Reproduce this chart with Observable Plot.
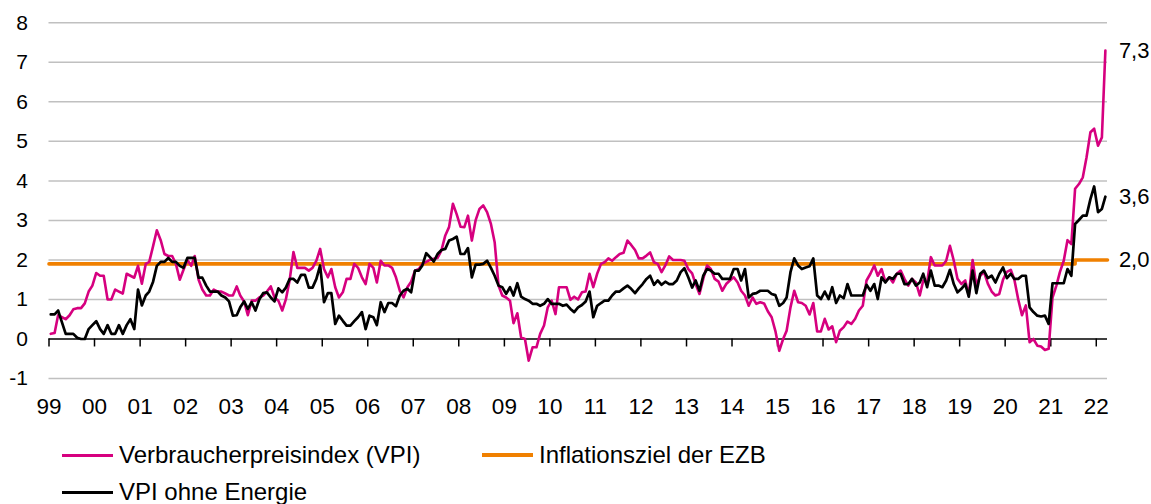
<!DOCTYPE html>
<html><head><meta charset="utf-8">
<script src="https://cdn.jsdelivr.net/npm/d3@7"></script>
<script src="https://cdn.jsdelivr.net/npm/@observablehq/plot@0.6"></script>
<style>
body{margin:0;background:#fff;font-family:"Liberation Sans",Arial,sans-serif;color:#000}
#legend{position:relative;height:68px;font-size:24px;width:1151px}
.item{position:absolute;display:flex;align-items:center;height:30px;white-space:nowrap}
.sw{display:inline-block;width:51px;margin-right:6px}
</style></head><body>
<div id="chart"></div>
<div id="legend"></div>
<script>
// Monthly values, January 1999 to March 2022
const vpi = [
0.13,0.15,0.6,0.55,0.5,0.6,0.75,0.78,0.78,0.9,1.2,1.35,
1.67,1.6,1.6,1.0,1.0,1.25,1.2,1.15,1.65,1.6,1.55,1.85,
1.4,1.9,1.95,2.35,2.75,2.5,2.15,2.1,2.1,1.9,1.5,1.75,
2.0,1.85,2.1,1.5,1.25,1.1,1.1,1.25,1.2,1.2,1.15,1.1,
1.1,1.33,1.1,0.95,0.6,0.97,0.97,1.05,1.1,1.2,1.33,1.05,
0.97,0.72,1.0,1.5,2.2,1.8,1.8,1.8,1.73,1.8,1.98,2.28,
1.77,1.56,1.77,1.31,1.05,1.18,1.52,1.52,1.9,1.8,1.56,1.39,
1.9,1.8,1.43,1.98,1.86,1.86,1.8,1.56,1.22,1.05,1.31,1.45,
1.73,1.77,1.9,1.95,2.0,2.03,2.05,2.24,2.62,2.83,3.42,3.16,
2.84,2.83,3.12,2.49,3.0,3.29,3.38,3.21,2.91,2.45,1.35,1.1,
1.05,0.97,0.4,0.65,0.04,0.0,-0.55,-0.21,-0.21,0.13,0.34,0.8,
0.97,0.63,1.31,1.31,1.31,0.99,1.07,1.0,1.18,1.2,1.65,1.31,
1.65,1.9,1.94,2.04,1.98,2.07,2.15,2.18,2.49,2.38,2.25,2.04,
2.04,2.11,2.19,1.94,1.9,1.69,1.86,2.09,2.0,2.0,2.0,1.98,
1.77,1.66,1.39,1.14,1.52,1.86,1.77,1.52,1.45,1.22,1.39,1.48,
1.56,1.43,1.22,1.1,0.84,1.05,0.89,0.93,0.9,0.7,0.55,0.2,
-0.3,0.0,0.21,0.8,1.22,0.93,0.91,0.84,0.62,0.91,0.19,0.19,
0.51,0.24,0.32,-0.08,0.21,0.3,0.44,0.38,0.51,0.72,0.84,1.48,
1.65,1.86,1.6,1.77,1.45,1.56,1.43,1.65,1.73,1.52,1.35,1.52,
1.43,1.1,1.48,1.43,2.07,1.86,1.86,1.86,1.98,2.36,1.98,1.52,
1.39,1.48,1.1,2.0,1.35,1.6,1.7,1.4,1.2,1.1,1.14,1.5,
1.7,1.75,1.5,1.0,0.6,0.85,-0.08,0.0,-0.17,-0.19,-0.28,-0.25,
1.05,1.35,1.69,1.98,2.5,2.4,3.8,3.92,4.09,4.6,5.23,5.32,
4.89,5.1,7.3
];
const vpiOhneEnergie = [
0.62,0.62,0.72,0.42,0.13,0.13,0.13,0.03,0.0,0.0,0.25,0.35,
0.45,0.25,0.13,0.35,0.13,0.13,0.35,0.13,0.35,0.5,0.25,1.25,
0.85,1.1,1.2,1.45,1.85,1.95,1.95,2.05,1.95,1.95,1.85,1.8,
2.05,2.05,2.05,1.55,1.55,1.35,1.2,1.2,1.2,1.1,1.05,0.95,
0.59,0.6,0.8,0.95,0.76,0.93,0.72,1.0,1.16,1.18,1.05,0.95,
1.28,1.18,1.3,1.52,1.52,1.43,1.62,1.62,1.3,1.3,1.52,1.86,
0.93,1.16,1.16,0.38,0.59,0.46,0.34,0.34,0.45,0.55,0.68,0.25,
0.59,0.55,0.35,0.93,0.68,0.91,0.91,0.83,1.1,1.22,1.27,1.18,
1.73,1.73,1.86,2.17,2.07,1.96,2.15,2.25,2.28,2.49,2.53,2.59,
2.15,2.15,2.3,1.56,1.88,1.88,1.9,1.98,1.8,1.6,1.35,1.31,
1.14,1.31,1.1,1.41,1.07,1.01,0.97,0.89,0.89,0.84,0.89,1.01,
0.89,0.89,0.89,0.84,0.87,0.76,0.68,0.8,0.86,0.95,1.2,0.55,
0.84,0.91,0.97,0.97,1.1,1.2,1.2,1.28,1.35,1.27,1.16,1.28,
1.39,1.52,1.6,1.37,1.48,1.37,1.45,1.39,1.39,1.48,1.69,1.79,
1.56,1.3,1.48,1.22,1.6,1.77,1.73,1.65,1.65,1.52,1.52,1.52,
1.77,1.77,1.48,1.77,1.05,1.14,1.16,1.22,1.22,1.22,1.14,1.11,
0.84,0.91,1.05,1.69,2.04,1.86,1.77,1.81,1.84,2.04,1.1,1.01,
1.2,1.01,1.31,0.91,1.1,1.03,1.39,1.1,1.1,1.1,1.1,1.37,
1.22,1.39,1.01,1.56,1.43,1.56,1.52,1.65,1.65,1.39,1.39,1.52,
1.35,1.43,1.65,1.31,1.73,1.35,1.35,1.31,1.48,1.75,1.39,1.18,
1.27,1.39,1.07,1.73,1.16,1.65,1.73,1.54,1.6,1.43,1.65,1.81,
1.54,1.65,1.52,1.52,1.6,1.6,0.8,0.68,0.59,0.57,0.59,0.38,
1.41,1.41,1.41,1.41,1.77,1.6,2.91,3.01,3.12,3.12,3.54,3.86,
3.21,3.29,3.6
];
const targetDates = ["1999-01-01","2021-07-15","2021-07-15","2022-04-01"];
const targetValues = [1.9,1.9,2.0,2.0];
const seriesNames = ["Verbraucherpreisindex (VPI)","Inflationsziel der EZB","VPI ohne Energie"];
const seriesColors = ["#d6007f","#f08000","#000000"];
const yTicks = [-1,0,1,2,3,4,5,6,7,8];
const xTickYears = d3.range(1999, 2023);

const monthDate = i => new Date(Date.UTC(1999, i, 15));
const vpiData = vpi.map((v,i)=>({date: monthDate(i), value: v}));
const exData = vpiOhneEnergie.map((v,i)=>({date: monthDate(i), value: v}));
const targetData = targetDates.map((d,i)=>({date: new Date(d+"T00:00:00Z"), value: targetValues[i]}));
const yearTicks = xTickYears.map(y => new Date(Date.UTC(y,0,1)));
const lastDate = vpiData[vpiData.length-1].date;
const endLabels = [
  {date: lastDate, value: vpi[vpi.length-1]},
  {date: lastDate, value: vpiOhneEnergie[vpiOhneEnergie.length-1]},
  {date: lastDate, value: targetValues[targetValues.length-1]}
];
const fmt = v => v.toFixed(1).replace(".", ",");

const chart = Plot.plot({
  width: 1151, height: 436,
  marginLeft: 48.5, marginRight: 44, marginTop: 22.3, marginBottom: 58,
  style: {fontFamily: "'Liberation Sans', Arial, sans-serif", fontSize: "21px", color: "#000", background: "#fff", overflow: "visible"},
  x: {type: "utc", domain: [new Date(Date.UTC(1999,0,1)), new Date(Date.UTC(2022,3,1))]},
  y: {domain: [-1, 8]},
  marks: [
    Plot.gridY(yTicks.filter(d => d !== 0), {stroke: "#c0c0c0", strokeOpacity: 1, strokeWidth: 1.5}),
    Plot.axisY(yTicks, {tickSize: 0, tickPadding: 21, fontSize: 21, label: null, tickFormat: d => d}),
    Plot.axisX(yearTicks, {anchor: "bottom", tickSize: 0, tickPadding: 20, fontSize: 22.5, label: null, tickFormat: d3.utcFormat("%y")}),
    Plot.ruleY([0], {stroke: "#000", strokeWidth: 1.5}),
    Plot.ruleX(yearTicks, {x: d => d, y1: 0, y2: 0, insetBottom: -8, stroke: "#000", strokeWidth: 1.5}),
    Plot.line(targetData, {x: "date", y: "value", stroke: seriesColors[1], strokeWidth: 3.6}),
    Plot.line(vpiData, {x: "date", y: "value", stroke: seriesColors[0], strokeWidth: 2.6}),
    Plot.line(exData, {x: "date", y: "value", stroke: seriesColors[2], strokeWidth: 2.7}),
    Plot.text(endLabels, {x: "date", y: "value", text: d => fmt(d.value), dx: 13.5, textAnchor: "start", fontSize: 22, fill: "#000"})
  ]
});
document.getElementById("chart").appendChild(chart);

const legend = document.getElementById("legend");
const legendItems = [
  {name: seriesNames[0], color: seriesColors[0], left: 62, top: 4, h: 3},
  {name: seriesNames[1], color: seriesColors[1], left: 482, top: 4, h: 4},
  {name: seriesNames[2], color: seriesColors[2], left: 62, top: 41, h: 3}
];
for (const it of legendItems) {
  const d = document.createElement("div");
  d.className = "item";
  d.style.left = it.left + "px";
  d.style.top = it.top + "px";
  const s = document.createElement("span");
  s.className = "sw";
  s.style.height = it.h + "px";
  s.style.background = it.color;
  d.appendChild(s);
  d.appendChild(document.createTextNode(it.name));
  legend.appendChild(d);
}
</script>
</body></html>
